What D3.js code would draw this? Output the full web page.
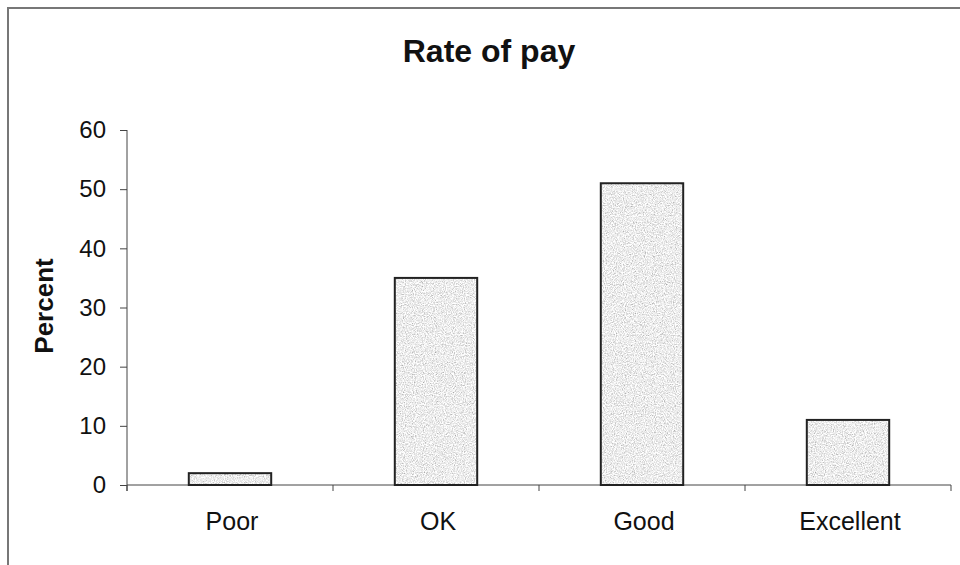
<!DOCTYPE html>
<html><head><meta charset="utf-8">
<script src="https://cdn.jsdelivr.net/npm/d3@7"></script>
<style>html,body{margin:0;padding:0;background:#fff;} svg{display:block;}</style>
</head><body>
<svg id="chart" width="960" height="565"></svg>
<script>
const categories = ["Poor", "OK", "Good", "Excellent"];
const values = [2, 35, 51, 11];
const yTicks = [0, 10, 20, 30, 40, 50, 60];
const title = "Rate of pay";
const yLabel = "Percent";

const svg = d3.select("#chart");
const font = "'Liberation Sans', Arial, sans-serif";

const defs = svg.append("defs");
const f = defs.append("filter").attr("id","noise").attr("x",0).attr("y",0).attr("width","100%").attr("height","100%");
f.append("feTurbulence").attr("type","fractalNoise").attr("baseFrequency","0.9").attr("numOctaves",3).attr("seed",5).attr("result","t");
f.append("feColorMatrix").attr("in","t").attr("type","matrix")
  .attr("values","0.7 0.7 0 0 0.14  0.7 0.7 0 0 0.14  0.7 0.7 0 0 0.14  0 0 0 0 1").attr("result","g");
f.append("feComposite").attr("in","g").attr("in2","SourceGraphic").attr("operator","in");

// frame
svg.append("path").attr("d","M8,565 L8,8 L960,8").attr("fill","none").attr("stroke","#777").attr("stroke-width",2);

const x = d3.scaleBand().domain(categories).range([127, 951]).padding(0);
const y = d3.scaleLinear().domain([0, 60]).range([485, 130]);

svg.append("text").attr("x", 489).attr("y", 62).attr("text-anchor","middle")
  .attr("font-family", font).attr("font-weight","bold").attr("font-size", 32).attr("fill","#111").text(title);

// y axis
const yAxis = d3.axisLeft(y).tickValues(yTicks).tickSize(7).tickPadding(14);
const gy = svg.append("g").attr("transform","translate(127,0)").call(yAxis);
gy.select(".domain").attr("stroke","#444").attr("d","M0,130V491");
gy.selectAll(".tick line").attr("stroke","#444");
gy.selectAll(".tick text").attr("font-family",font).attr("font-size",24).attr("fill","#111");

// x axis
const gx = svg.append("g").attr("transform","translate(0,485)");
gx.append("line").attr("x1",127).attr("x2",951).attr("stroke","#444");
const bounds = categories.map(c => x(c)).concat([x(categories[categories.length-1]) + x.bandwidth()]);
gx.selectAll("line.tk").data(bounds).join("line").attr("class","tk")
  .attr("x1",d=>d).attr("x2",d=>d).attr("y1",0).attr("y2",6).attr("stroke","#444");
gx.selectAll("text").data(categories).join("text")
  .attr("x", d => x(d) + x.bandwidth()/2 + 2).attr("y", 45).attr("text-anchor","middle")
  .attr("font-family",font).attr("font-size",25).attr("fill","#111").text(d=>d);

svg.append("text").attr("transform","translate(53,306) rotate(-90)").attr("text-anchor","middle")
  .attr("font-family",font).attr("font-weight","bold").attr("font-size",26).attr("fill","#111").text(yLabel);

// bars
const bw = x.bandwidth()*0.4;
const bars = svg.append("g");
bars.selectAll("rect.fill").data(values).join("rect").attr("class","fill")
  .attr("x",(d,i)=> x(categories[i]) + x.bandwidth()/2 - bw/2).attr("width",bw)
  .attr("y",d=>y(d)).attr("height",d=>y(0)-y(d)).attr("fill","#ccc").attr("filter","url(#noise)");
bars.selectAll("rect.edge").data(values).join("rect").attr("class","edge")
  .attr("x",(d,i)=> x(categories[i]) + x.bandwidth()/2 - bw/2).attr("width",bw)
  .attr("y",d=>y(d)).attr("height",d=>y(0)-y(d)).attr("fill","none").attr("stroke","#222").attr("stroke-width",2);
</script>
</body></html>
